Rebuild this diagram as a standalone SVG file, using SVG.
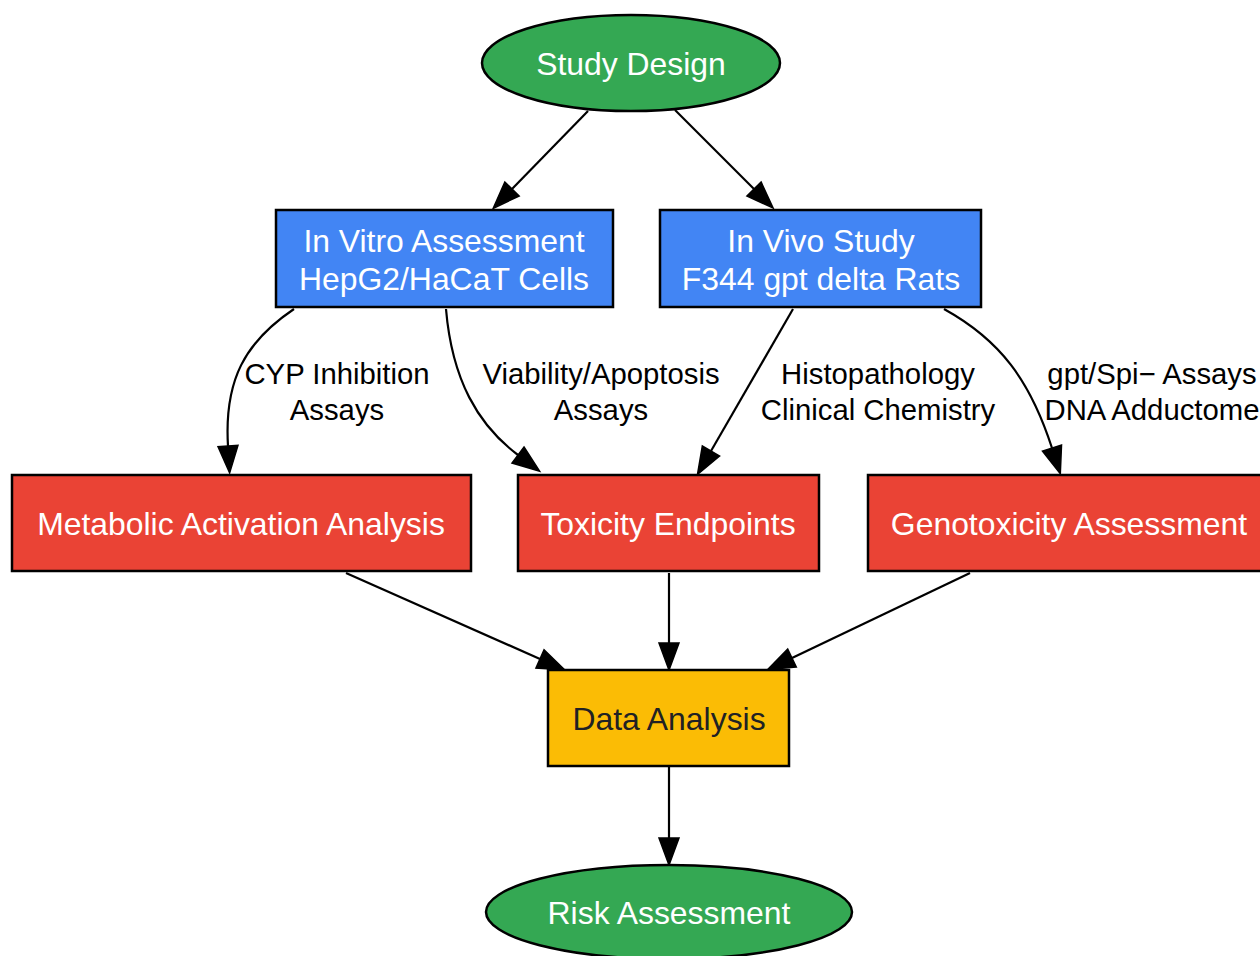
<svg xmlns="http://www.w3.org/2000/svg" width="1260" height="956" viewBox="0 0 1260 956">
<defs>
<style>
.node{stroke:#000;stroke-width:2.5}
.green{fill:#34A853}.blue{fill:#4285F4}.red{fill:#EA4335}.yellow{fill:#FBBC05}
.nt{font-family:"Liberation Sans",Arial,sans-serif;font-size:31.9px;fill:#fff;text-anchor:middle}
.dt{fill:#202124}
.edge{fill:none;stroke:#000;stroke-width:2.2;marker-end:url(#ah)}
.el{font-family:"Liberation Sans",Arial,sans-serif;font-size:29.3px;fill:#000;text-anchor:middle}
</style>
<marker id="ah" markerUnits="userSpaceOnUse" markerWidth="30" markerHeight="24" refX="0" refY="10" orient="auto" overflow="visible">
<path d="M0,0 L27,10 L0,20 z" fill="#000" stroke="#000" stroke-width="1.5"/>
</marker>
</defs>
<rect width="1260" height="956" fill="#fff"/>
<g id="connectors">
<path class="edge" d="M588,111 L512,189"/>
<path class="edge" d="M675,110 L754,189"/>
<path class="edge" d="M294,309 C245,342 224,380 228,446"/>
<path class="edge" d="M446,309 C452,380 478,425 518,455"/>
<path class="edge" d="M793,309 L711,451"/>
<path class="edge" d="M944,309 C1000,340 1030,380 1052,448"/>
<path class="edge" d="M346,573 L540,659"/>
<path class="edge" d="M669,573 L669,643"/>
<path class="edge" d="M970,573 L792,658"/>
<path class="edge" d="M669,767 L669,838"/>
<text class="el" x="337" y="384">CYP Inhibition</text>
<text class="el" x="337" y="420">Assays</text>
<text class="el" x="601" y="384">Viability/Apoptosis</text>
<text class="el" x="601" y="420">Assays</text>
<text class="el" x="878" y="384">Histopathology</text>
<text class="el" x="878" y="420">Clinical Chemistry</text>
<text class="el" x="1152" y="384">gpt/Spi− Assays</text>
<text class="el" x="1152" y="420">DNA Adductome</text>
</g>
<g id="study-design">
<ellipse class="node green" cx="631" cy="63" rx="149" ry="48"/>
<text class="nt" x="631" y="75">Study Design</text>
</g>
<g id="in-vitro">
<rect class="node blue" x="276" y="210" width="337" height="97"/>
<text class="nt" x="444" y="252">In Vitro Assessment</text>
<text class="nt" x="444" y="290">HepG2/HaCaT Cells</text>
</g>
<g id="in-vivo">
<rect class="node blue" x="660" y="210" width="321" height="97"/>
<text class="nt" x="821" y="252">In Vivo Study</text>
<text class="nt" x="821" y="290">F344 gpt delta Rats</text>
</g>
<g id="metabolic">
<rect class="node red" x="12" y="475" width="459" height="96"/>
<text class="nt" x="241" y="535">Metabolic Activation Analysis</text>
</g>
<g id="toxicity">
<rect class="node red" x="518" y="475" width="301" height="96"/>
<text class="nt" x="668" y="535">Toxicity Endpoints</text>
</g>
<g id="genotoxicity">
<rect class="node red" x="868" y="475" width="402" height="96"/>
<text class="nt" x="1069" y="535">Genotoxicity Assessment</text>
</g>
<g id="data-analysis">
<rect class="node yellow" x="548" y="670" width="241" height="96"/>
<text class="nt dt" x="669" y="730">Data Analysis</text>
</g>
<g id="risk-assessment">
<ellipse class="node green" cx="669" cy="912" rx="183" ry="47"/>
<text class="nt" x="669" y="924">Risk Assessment</text>
</g>
</svg>
